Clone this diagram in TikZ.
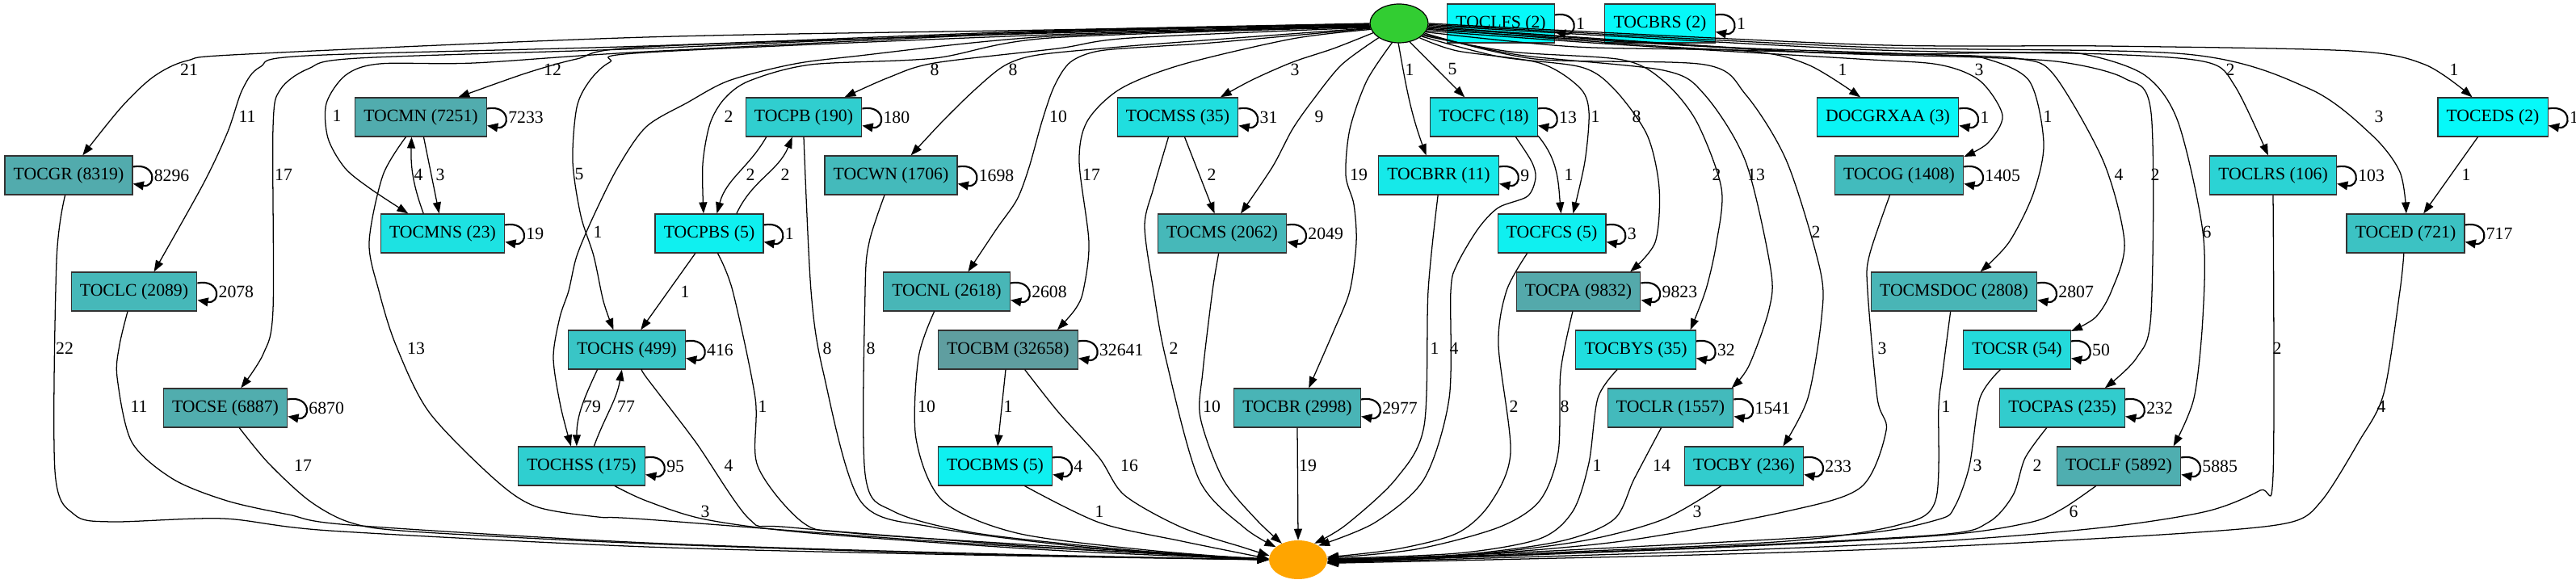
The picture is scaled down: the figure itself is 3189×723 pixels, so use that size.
\documentclass[tikz,border=0pt]{standalone}
\usepackage{fontspec}
\setmainfont{Liberation Serif}
\usetikzlibrary{arrows.meta,shapes.geometric}
\definecolor{tealdark}{RGB}{95,158,160}
\definecolor{cyanlight}{RGB}{0,255,255}
\definecolor{startgreen}{RGB}{50,205,50}
\definecolor{endorange}{RGB}{255,165,0}
\tikzset{
  box/.style={draw=black!80, line width=0.9pt, minimum height=36pt, inner xsep=8pt, font=\fontsize{16.3}{19}\selectfont},
  cfill/.style={fill=tealdark!#1!cyanlight},
  edge/.style={-{Triangle[length=10.5pt,width=7.5pt]}, line width=0.95pt},
  selfloop/.style={-{Triangle[length=10pt,width=8pt]}, line width=1.6pt},
  num/.style={inner sep=0pt, font=\fontsize{16.3}{19}\selectfont},
  gv/.style={smooth, tension=0.5}
}
\begin{document}
\begin{tikzpicture}[x=0.75pt,y=0.75pt]
\useasboundingbox (0,0) rectangle (3189,723);
% start and end
\node[ellipse, draw=black, line width=0.9pt, fill=startgreen, minimum width=54pt, minimum height=36pt] (S) at (1732,694) {};
\node[ellipse, fill=endorange, minimum width=54pt, minimum height=36pt] (E) at (1607,30) {};
% states with their self loops
\foreach \nm/\x/\y/\p/\t/\l in {
  TOCLFS/1858/694/6.7/{TOCLFS (2)}/1, TOCBRS/2055/694/6.7/{TOCBRS (2)}/1,
  TOCMN/521/578/85.5/{TOCMN (7251)}/7233, TOCPB/995/578/50.5/{TOCPB (190)}/180,
  TOCMSS/1458/578/34.2/{TOCMSS (35)}/31, TOCFC/1837/578/27.8/{TOCFC (18)}/13,
  DOCGRXAA/2337/578/10.6/{DOCGRXAA (3)}/1, TOCEDS/3086/578/6.7/{TOCEDS (2)}/1,
  TOCGR/85/506/86.8/{TOCGR (8319)}/8296, TOCWN/1103/506/71.6/{TOCWN (1706)}/1698,
  TOCBRR/1781/506/23.1/{TOCBRR (11)}/9, TOCOG/2351/506/69.8/{TOCOG (1408)}/1405,
  TOCLRS/2814/506/44.9/{TOCLRS (106)}/103, TOCMNS/548/434/30.2/{TOCMNS (23)}/19,
  TOCPBS/878/434/15.5/{TOCPBS (5)}/1, TOCMS/1513/434/73.4/{TOCMS (2062)}/2049,
  TOCFCS/1921/434/15.5/{TOCFCS (5)}/3, TOCED/2978/434/63.3/{TOCED (721)}/717,
  TOCLC/166/362/73.5/{TOCLC (2089)}/2078, TOCNL/1172/362/75.7/{TOCNL (2618)}/2608,
  TOCPA/1954/362/88.4/{TOCPA (9832)}/9823, TOCMSDOC/2419/362/76.4/{TOCMSDOC (2808)}/2807,
  TOCHS/776/290/59.8/{TOCHS (499)}/416, TOCBM/1248/290/100/{TOCBM (32658)}/32641,
  TOCBYS/2025/290/34.2/{TOCBYS (35)}/32, TOCSR/2497/290/38.4/{TOCSR (54)}/50,
  TOCSE/279/218/85.0/{TOCSE (6887)}/6870, TOCBR/1606/218/77.0/{TOCBR (2998)}/2977,
  TOCLR/2068/218/70.7/{TOCLR (1557)}/1541, TOCPAS/2553/218/52.5/{TOCPAS (235)}/232,
  TOCHSS/720/146/49.7/{TOCHSS (175)}/95, TOCBMS/1232/146/15.5/{TOCBMS (5)}/4,
  TOCBY/2159/146/52.6/{TOCBY (236)}/233, TOCLF/2623/146/83.5/{TOCLF (5892)}/5885}
{
  \node[box, cfill=\p] (\nm) at (\x,\y) {\t};
  \draw[selfloop] ([yshift=7.9pt]\nm.east) .. controls +(22pt,4pt) and +(22pt,-4pt) .. ([yshift=-7.9pt]\nm.east);
  \node[num, anchor=west] (\nm-l) at ([xshift=19.5pt]\nm.east) {\l};
}
% edges out of the start
\draw[edge] plot[gv] coordinates {(S.180) (1300,686) (800,677) (306,656) (232,648) (190,628) (150,590) (TOCGR.55)};
\draw[edge] plot[gv] coordinates {(S.181) (1300,685) (800,666) (380,654) (322,640) (300,612) (282,560) (252,496) (TOCLC.45)};
\draw[edge] plot[gv] coordinates {(S.182) (1300,684) (800,663) (444,651) (382,638) (347,612) (338,565) (338,340) (326,285) (TOCSE.52)};
\draw[edge] plot[gv] coordinates {(S.183) (1300,683) (800,659) (587,645) (470,644) (428,630) (404,595) (406,552) (427,515) (459,489) (TOCMNS.150)};
\draw[edge] plot[gv] coordinates {(S.184) (1300,682) (800,665) (714,650) (650,632) (TOCMN.28)};
\draw[edge] plot[gv] coordinates {(S.185) (1300,680) (800,658) (755,646) (730,623) (714,590) (709,523) (719,456) (735,406) (747,350) (TOCHS.124)};
\draw[edge] plot[gv] coordinates {(S.186) (1300,678) (1055,653) (979,643) (902,623) (851,596) (800,566) (765,516) (735,456) (714,406) (704,363) (693,330) (685,280) (694,220) (TOCHSS.118)};
\draw[edge] plot[gv] coordinates {(S.187) (1300,676) (1157,651) (1004,643) (928,623) (897,601) (879,570) (870,520) (TOCPBS.106)};
\draw[edge] plot[gv] coordinates {(S.188) (1400,676) (1310,663) (1157,645) (1100,627) (TOCPB.26)};
\draw[edge] plot[gv] coordinates {(S.189) (1450,670) (1387,665) (1285,655) (1244,642) (1208,613) (1167,573) (TOCWN.45)};
\draw[edge] plot[gv] coordinates {(S.190) (1500,670) (1438,666) (1361,660) (1325,646) (1305,616) (1290,573) (1274,516) (1259,476) (1234,440) (TOCNL.43)};
\draw[edge] plot[gv] coordinates {(S.192) (1600,675) (1463,643) (1387,613) (1346,573) (1336,523) (1348,423) (1341,363) (1331,340) (TOCBM.22)};
\draw[edge] plot[gv] coordinates {(S.200) (1651,663) (1600,646) (1550,624) (TOCMSS.25)};
\draw[edge] plot[gv] coordinates {(S.215) (1661,643) (1626,600) (1600,563) (1575,516) (TOCMS.47)};
\draw[edge] plot[gv] coordinates {(S.250) (1692,623) (1671,563) (1666,506) (1676,470) (1679,423) (1671,363) (1651,313) (TOCBR.60)};
\draw[edge] (S.268) to[out=-80,in=110] (TOCBRR.122);
\draw[edge] (S.300) -- (TOCFC.134);
\draw[edge] plot[gv] coordinates {(S.325) (1804,660) (1906,645) (1955,615) (1967,585) (1962,523) (TOCFCS.43)};
\draw[edge] plot[gv] coordinates {(S.330) (1855,653) (1957,640) (1998,613) (2039,556) (2054,490) (2049,423) (TOCPA.21)};
\draw[edge] plot[gv] coordinates {(S.333) (1870,659) (2008,649) (2059,623) (2100,573) (2131,490) (2125,423) (2112,365) (TOCBYS.20)};
\draw[edge] plot[gv] coordinates {(S.336) (1880,655) (2059,636) (2110,606) (2161,523) (2192,390) (2190,340) (2165,270) (TOCLR.18)};
\draw[edge] plot[gv] coordinates {(S.339) (1900,650) (2110,643) (2161,606) (2212,523) (2253,390) (2255,330) (2238,230) (TOCBY.27)};
\draw[edge] plot[gv] coordinates {(S.342) (1950,665) (2161,660) (2238,643) (DOCGRXAA.144)};
\draw[edge] plot[gv] coordinates {(S.345) (2000,668) (2300,650) (2400,643) (2451,623) (2479,580) (2461,546) (TOCOG.16)};
\draw[edge] plot[gv] coordinates {(S.348) (2100,666) (2400,655) (2456,651) (2512,623) (2530,546) (2517,483) (2487,423) (TOCMSDOC.37)};
\draw[edge] plot[gv] coordinates {(S.350) (2100,663) (2400,655) (2502,650) (2543,630) (2604,523) (2630,423) (2614,363) (2594,330) (TOCSR.19)};
\draw[edge] plot[gv] coordinates {(S.352) (2200,660) (2450,652) (2553,646) (2630,626) (2663,583) (2663,336) (2645,280) (TOCPAS.25)};
\draw[edge] plot[gv] coordinates {(S.354) (2250,658) (2500,658) (2579,656) (2655,630) (2696,573) (2727,436) (2727,330) (2716,230) (TOCLF.20)};
\draw[edge] plot[gv] coordinates {(S.356) (2300,662) (2604,656) (2732,646) (2767,616) (TOCLRS.104)};
\draw[edge] plot[gv] coordinates {(S.358) (2300,665) (2706,656) (2859,613) (2936,556) (2971,510) (TOCED.88)};
\draw[edge] plot[gv] coordinates {(S.0) (2300,668) (2604,666) (2910,660) (3002,643) (TOCEDS.136)};
% edges between states
\draw[edge] (TOCMN.-82) -- (TOCMNS.100);
\draw[edge] (TOCMNS.134) to[out=110,in=-92] (TOCMN.-115);
\draw[edge] (TOCPB.-152) to[out=-120,in=75] (TOCPBS.69);
\draw[edge] (TOCPBS.36) to[out=65,in=-112] (TOCPB.-120);
\draw[edge] (TOCMSS.-71) -- (TOCMS.111);
\draw[edge] (TOCPBS.-125) -- (TOCHS.55);
\draw[edge] (TOCHS.-146) to[out=-115,in=90] (TOCHSS.104);
\draw[edge] (TOCHSS.58) to[out=70,in=-100] (TOCHS.-104);
\draw[edge] (TOCBM.-97) -- (TOCBMS.83);
\draw[edge] (TOCFC.-19) to[out=-50,in=95] (TOCFCS.65);
\draw[edge] (TOCEDS.-127) -- (TOCED.48);
% edges into the end
\draw[edge] plot[gv] coordinates {(TOCGR.-100) (70,400) (68,140) (92,86) (138,77) (276,81) (408,66) (800,46) (1200,36) (E.180)};
\draw[edge] plot[gv] coordinates {(TOCLC.-108) (148,296) (145,256) (163,176) (214,130) (281,103) (357,86) (434,73) (800,51) (1200,38) (E.180)};
\draw[edge] plot[gv] coordinates {(TOCSE.-55) (332,150) (383,103) (434,76) (510,65) (800,50) (1200,37) (E.180)};
\draw[edge] plot[gv] coordinates {(TOCMN.-127) (474,506) (457,423) (469,363) (490,296) (531,213) (612,130) (663,96) (740,83) (800,80) (1200,50) (E.178)};
\draw[edge] plot[gv] coordinates {(TOCHSS.-31) (800,103) (873,80) (1004,63) (1300,42) (E.180)};
\draw[edge] plot[gv] coordinates {(TOCHS.-52) (800,256) (861,176) (928,80) (979,70) (1300,45) (E.180)};
\draw[edge] plot[gv] coordinates {(TOCPBS.-67) (907,363) (935,230) (938,146) (994,76) (1055,63) (1300,47) (E.180)};
\draw[edge] plot[gv] coordinates {(TOCPB.-90) (1004,363) (1019,263) (1065,103) (1157,70) (1350,45) (E.180)};
\draw[edge] plot[gv] coordinates {(TOCWN.-108) (1076,423) (1071,363) (1071,136) (1106,90) (1208,63) (1400,42) (E.180)};
\draw[edge] plot[gv] coordinates {(TOCNL.-122) (1137,280) (1134,180) (1167,103) (1259,63) (1420,42) (E.180)};
\draw[edge] plot[gv] coordinates {(TOCBMS.-34) (1361,76) (1463,53) (E.178)};
\draw[edge] plot[gv] coordinates {(TOCBM.-50) (1310,213) (1361,156) (1392,110) (1463,70) (1540,45) (E.172)};
\draw[edge] plot[gv] coordinates {(TOCMSS.-115) (1428,490) (1417,443) (1428,363) (1443,280) (1484,130) (1540,70) (E.150)};
\draw[edge] plot[gv] coordinates {(TOCMS.-100) (1501,363) (1489,263) (1486,206) (1514,130) (1555,80) (E.135)};
\draw[edge] (TOCBR.south) -- (E.north);
\draw[edge] plot[gv] coordinates {(TOCBRR.-92) (1768,363) (1763,196) (1728,130) (1666,73) (E.45)};
\draw[edge] plot[gv] coordinates {(TOCFC.-32) (1896,523) (1901,503) (1891,480) (1855,466) (1830,440) (1804,396) (1796,363) (1794,230) (1763,130) (1702,76) (E.35)};
\draw[edge] plot[gv] coordinates {(TOCFCS.-141) (1865,363) (1855,296) (1870,163) (1845,100) (1804,63) (1728,43) (E.5)};
\draw[edge] plot[gv] coordinates {(TOCPA.-106) (1932,263) (1929,163) (1906,103) (1855,70) (1753,43) (E.3)};
\draw[edge] plot[gv] coordinates {(TOCBYS.-133) (1978,230) (1967,150) (1947,90) (1906,56) (1804,38) (E.2)};
\draw[edge] plot[gv] coordinates {(TOCLR.-115) (2023,130) (1998,80) (1932,53) (1804,36) (E.1)};
\draw[edge] plot[gv] coordinates {(TOCBY.-139) (2059,80) (1957,53) (1804,35) (E.0)};
\draw[edge] plot[gv] coordinates {(TOCOG.-115) (2314,406) (2312,363) (2324,230) (2335,190) (2304,120) (2212,90) (2008,53) (1804,35) (E.-2)};
\draw[edge] plot[gv] coordinates {(TOCMSDOC.-100) (2405,263) (2400,220) (2396,103) (2350,73) (2212,53) (1900,38) (E.-3)};
\draw[edge] plot[gv] coordinates {(TOCSR.-130) (2451,230) (2438,146) (2420,96) (2400,80) (2300,62) (2000,45) (E.-4)};
\draw[edge] plot[gv] coordinates {(TOCPAS.-128) (2507,156) (2492,110) (2461,76) (2400,61) (2100,45) (E.-5)};
\draw[edge] plot[gv] coordinates {(TOCLF.-139) (2553,93) (2512,76) (2400,60) (2100,44) (E.-5)};
\draw[edge] plot[gv] coordinates {(TOCLRS.-90) (2814,136) (2798,116) (2732,90) (2604,70) (2400,53) (2100,40) (E.-6)};
\draw[edge] plot[gv] coordinates {(TOCED.-95) (2971,363) (2951,236) (2920,176) (2874,103) (2834,76) (2706,63) (2400,46) (2100,36) (E.-7)};
% edge counts
\foreach \x/\y/\t [count=\i] in {
  234/637/21, 306/579/11, 351/507/17, 417/580/1, 684/637/12, 717/507/5, 740/436/1,
  902/579/2, 1157/637/8, 1254/637/8, 1310/579/10, 1351/507/17, 1603/637/3, 1633/579/9,
  1682/507/19, 1745/637/1, 1798/637/5, 1975/579/1, 2026/579/8, 2125/507/2, 2174/507/13,
  2248/436/2, 2281/637/1, 2450/637/3, 2535/579/1, 2623/507/4, 2668/507/2, 2732/436/6,
  2761/637/2, 2945/579/3, 3038/637/1,
  545/507/3, 518/507/4, 929/507/2, 972/507/2, 1500/507/2, 848/362/1, 733/220/79,
  775/220/77, 1248/220/1, 1942/507/1, 3053/507/1,
  80/292/22, 172/220/11, 375/147/17, 515/292/13, 873/90/3, 902/147/4, 944/220/1,
  1024/292/8, 1078/292/8, 1147/220/10, 1361/90/1, 1398/147/16, 1453/292/2, 1500/220/10,
  1619/147/19, 1776/292/1, 1800/292/4, 1874/220/2, 1937/220/8, 1977/147/1, 2057/147/14,
  2101/90/3, 2330/292/3, 2409/220/1, 2448/147/3, 2522/147/2, 2567/90/6, 2819/292/2,
  2948/220/4}
  \node[num] (lab\i) at (\x,\y) {\t};
\end{tikzpicture}
\end{document}
